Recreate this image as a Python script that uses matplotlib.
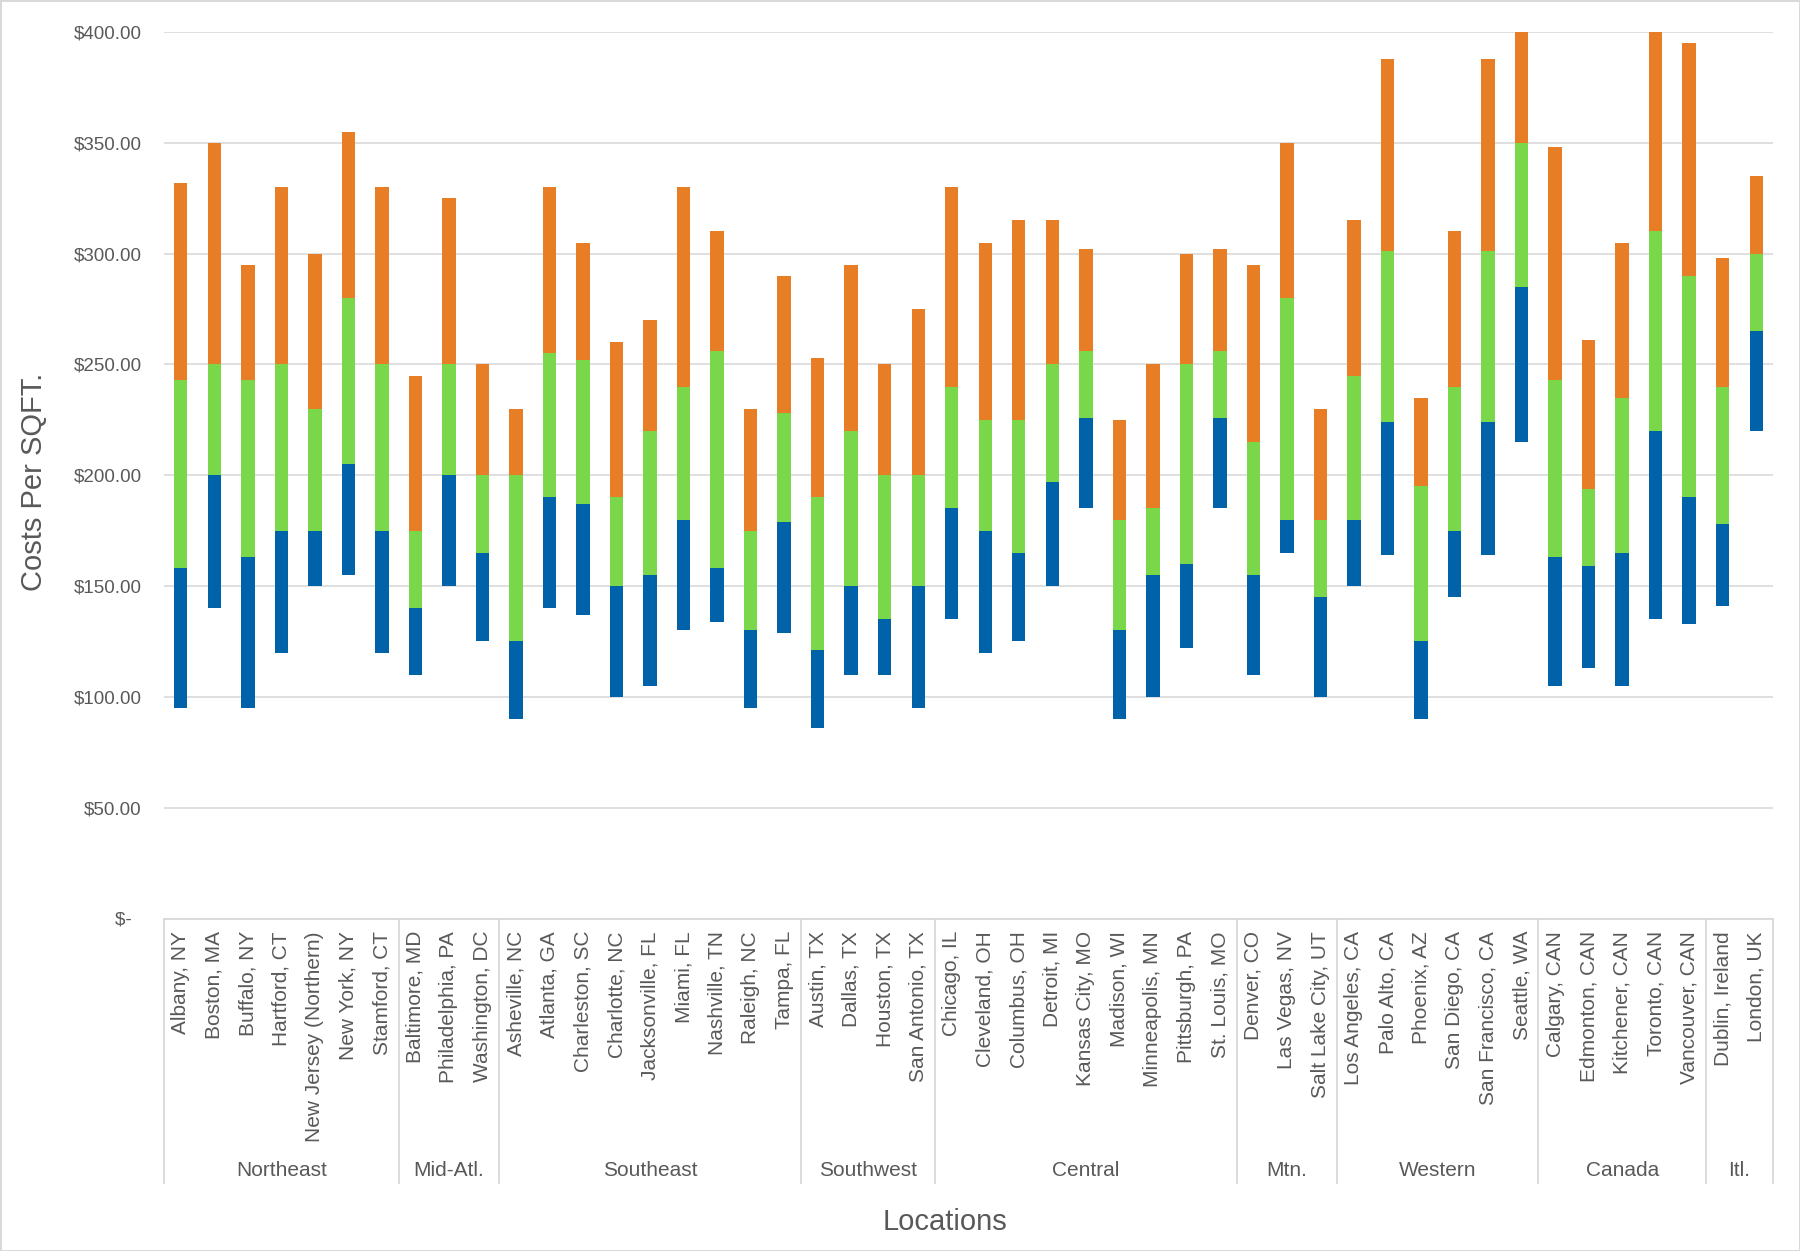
import matplotlib
matplotlib.use("Agg")
import matplotlib.pyplot as plt
from matplotlib.lines import Line2D
from matplotlib.transforms import blended_transform_factory
from matplotlib.ticker import FuncFormatter

plt.rcParams['font.family'] = ['Liberation Sans', 'DejaVu Sans']

groups = ["Northeast", "Mid-Atl.", "Southeast", "Southwest", "Central", "Mtn.", "Western", "Canada", "Itl."]
group_sizes = [7, 3, 9, 4, 9, 3, 6, 5, 2]

cities = [
    "Albany, NY", "Boston, MA", "Buffalo, NY", "Hartford, CT", "New Jersey (Northern)", "New York, NY", "Stamford, CT",
    "Baltimore, MD", "Philadelphia, PA", "Washington, DC",
    "Asheville, NC", "Atlanta, GA", "Charleston, SC", "Charlotte, NC", "Jacksonville, FL", "Miami, FL",
    "Nashville, TN", "Raleigh, NC", "Tampa, FL",
    "Austin, TX", "Dallas, TX", "Houston, TX", "San Antonio, TX",
    "Chicago, IL", "Cleveland, OH", "Columbus, OH", "Detroit, MI", "Kansas City, MO", "Madison, WI",
    "Minneapolis, MN", "Pittsburgh, PA", "St. Louis, MO",
    "Denver, CO", "Las Vegas, NV", "Salt Lake City, UT",
    "Los Angeles, CA", "Palo Alto, CA", "Phoenix, AZ", "San Diego, CA", "San Francisco, CA", "Seattle, WA",
    "Calgary, CAN", "Edmonton, CAN", "Kitchener, CAN", "Toronto, CAN", "Vancouver, CAN",
    "Dublin, Ireland", "London, UK",
]

# cost levels ($/sqft): low end, top of blue, top of green, top of orange
low = [95, 140, 95, 120, 150, 155, 120,
       110, 150, 125,
       90, 140, 137, 100, 105, 130, 134, 95, 129,
       86, 110, 110, 95,
       135, 120, 125, 150, 185, 90, 100, 122, 185,
       110, 165, 100,
       150, 164, 90, 145, 164, 215,
       105, 113, 105, 135, 133,
       141, 220]
blue_top = [158, 200, 163, 175, 175, 205, 175,
            140, 200, 165,
            125, 190, 187, 150, 155, 180, 158, 130, 179,
            121, 150, 135, 150,
            185, 175, 165, 197, 226, 130, 155, 160, 226,
            155, 180, 145,
            180, 224, 125, 175, 224, 285,
            163, 159, 165, 220, 190,
            178, 265]
green_top = [243, 250, 243, 250, 230, 280, 250,
             175, 250, 200,
             200, 255, 252, 190, 220, 240, 256, 175, 228,
             190, 220, 200, 200,
             240, 225, 225, 250, 256, 180, 185, 250, 256,
             215, 280, 180,
             245, 301, 195, 240, 301, 350,
             243, 194, 235, 310, 290,
             240, 300]
orange_top = [332, 350, 295, 330, 300, 355, 330,
              245, 325, 250,
              230, 330, 305, 260, 270, 330, 310, 230, 290,
              253, 295, 250, 275,
              330, 305, 315, 315, 302, 225, 250, 300, 302,
              295, 350, 230,
              315, 388, 235, 310, 388, 400,
              348, 261, 305, 400, 395,
              298, 335]

BLUE = "#0062A8"
GREEN = "#7AD74A"
ORANGE = "#E77D24"
TXT = "#595959"
GRID = "#D9D9D9"

W, H = 1800, 1251
fig = plt.figure(figsize=(W / 100, H / 100), dpi=100)
fig.patch.set_edgecolor(GRID)
fig.patch.set_linewidth(2)

ax_left, ax_right = 164 / W, 1773 / W
ax_bottom, ax_top = (H - 918.5) / H, (H - 32) / H
ax = fig.add_axes([ax_left, ax_bottom, ax_right - ax_left, ax_top - ax_bottom])

x = list(range(len(cities)))
bw = 0.4
blue_h = [b - l for b, l in zip(blue_top, low)]
green_h = [g - b for g, b in zip(green_top, blue_top)]
orange_h = [o - g for o, g in zip(orange_top, green_top)]
ax.bar(x, blue_h, bw, bottom=low, color=BLUE, zorder=3)
ax.bar(x, green_h, bw, bottom=blue_top, color=GREEN, zorder=3)
ax.bar(x, orange_h, bw, bottom=green_top, color=ORANGE, zorder=3)

ax.set_xlim(-0.5, len(cities) - 0.5)
ax.set_ylim(0, 400)
ax.set_yticks(range(0, 401, 50))
ax.yaxis.set_major_formatter(FuncFormatter(lambda v, p: "$-  " if v == 0 else f"${v:,.2f}"))
ax.grid(axis="y", color=GRID, linewidth=1.2, zorder=0)
ax.set_axisbelow(True)
for s in ["top", "right", "left"]:
    ax.spines[s].set_visible(False)
ax.spines["bottom"].set_color(GRID)
ax.spines["bottom"].set_linewidth(1.3)

ax.set_xticks(x)
ax.set_xticklabels(cities, rotation=90, fontsize=15, color=TXT)
ax.tick_params(axis="x", length=0, pad=9)
ax.tick_params(axis="y", length=0, pad=16, labelsize=13.5, labelcolor=TXT)

# group separators and labels
tr = blended_transform_factory(ax.transData, fig.transFigure)
y_line_bot = (H - 1183) / H
bounds = [-0.5]
for n in group_sizes:
    bounds.append(bounds[-1] + n)
for b in bounds:
    ax.add_line(Line2D([b, b], [ax_bottom, y_line_bot], transform=tr, color=GRID,
                       linewidth=1.3, clip_on=False))
for g, a, b in zip(groups, bounds[:-1], bounds[1:]):
    ax.text((a + b) / 2, (H - 1171) / H, g, transform=tr, ha="center", va="center",
            fontsize=15, color=TXT)

fig.text(945 / W, (H - 1222) / H, "Locations", ha="center", va="center",
         fontsize=21, color=TXT)
fig.text(34 / W, (H - 482) / H, "Costs Per SQFT.", rotation=90, ha="center", va="center",
         fontsize=21, color=TXT)

fig.savefig("out.png", dpi=100)
